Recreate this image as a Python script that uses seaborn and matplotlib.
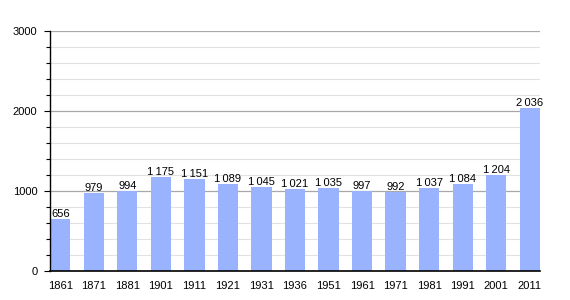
import matplotlib
matplotlib.use("Agg")
import matplotlib.pyplot as plt
import seaborn as sns
import pandas as pd
from matplotlib.ticker import MultipleLocator

years = ["1861", "1871", "1881", "1901", "1911", "1921", "1931", "1936",
         "1951", "1961", "1971", "1981", "1991", "2001", "2011"]
population = [656, 979, 994, 1175, 1151, 1089, 1045, 1021,
              1035, 997, 992, 1037, 1084, 1204, 2036]
yticks = [0, 1000, 2000, 3000]

df = pd.DataFrame({"year": years, "pop": population})

sns.set_theme(style="white")
plt.rcParams['font.family'] = ['Liberation Sans', 'DejaVu Sans']

fig = plt.figure(figsize=(5.7, 3.0), dpi=100)
ax = fig.add_axes([50/570, 1-271/300, 490/570, 240/300])

sns.barplot(data=df, x="year", y="pop", color="#99b3ff", saturation=1,
            width=0.6, ax=ax, edgecolor="none", linewidth=0)

ax.set_xlim(-0.31, 14.31)
ax.set_ylim(0, 3000)
ax.set_yticks(yticks)
ax.yaxis.set_minor_locator(MultipleLocator(200))
ax.grid(axis="y", which="major", color="#a8a8a8", linewidth=0.9)
ax.grid(axis="y", which="minor", color="#e2e2e2", linewidth=0.8)
ax.set_axisbelow(True)

for s in ["top", "right"]:
    ax.spines[s].set_visible(False)
ax.spines["left"].set_color("black")
ax.spines["bottom"].set_color("black")
ax.spines["left"].set_linewidth(1.0)
ax.spines["bottom"].set_linewidth(1.2)
ax.spines["bottom"].set_zorder(5)
ax.spines["left"].set_zorder(5)

ax.tick_params(axis="y", which="major", left=True, length=4, width=0.8,
               color="black", labelsize=8, labelcolor="black", pad=5)
ax.tick_params(axis="y", which="minor", left=True, length=3, width=0.8, color="black")
ax.tick_params(axis="x", bottom=False, labelsize=8, labelcolor="black", pad=1)
ax.set_xlabel("")
ax.set_ylabel("")

labels = [f"{v:,}".replace(",", "\u2009") for v in population]
ax.bar_label(ax.containers[0], labels=labels, padding=0, fontsize=8, color="black")

fig.savefig("out.png", dpi=100)
